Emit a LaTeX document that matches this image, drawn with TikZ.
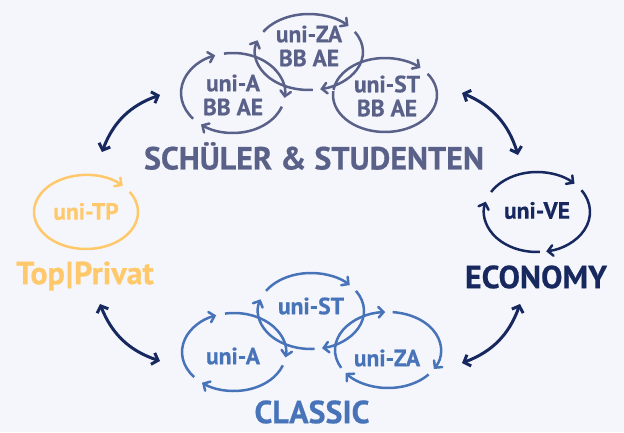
\documentclass[tikz,border=0pt]{standalone}
\usepackage{fontspec}
\setmainfont{PT Sans}[BoldFeatures={FakeBold=0.5}]
\usetikzlibrary{arrows.meta}
\definecolor{bgc}{HTML}{F5F6FC}
\definecolor{slate}{HTML}{5A6188}
\definecolor{blu}{HTML}{4773B8}
\definecolor{yel}{HTML}{FFC96B}
\definecolor{navy}{HTML}{17285E}
\newcommand\ecarc[6]{\draw[#1] (#2) ++(#5:#3 and #4) arc[start angle=#5, end angle=#6, x radius=#3, y radius=#4];}
\tikzset{
  cyc/.style={line width=2.5pt, -{Straight Barb[length=5pt,width=10.5pt,line cap=round]}},
  cycn/.style={line width=2.5pt},
  small/.style={font=\bfseries\fontsize{23.5}{24}\selectfont, align=center, inner sep=0pt},
  big/.style={font=\bfseries\fontsize{32}{33}\selectfont, inner sep=0pt},
  link/.style={line width=3pt, color=navy, {Straight Barb[length=5.5pt,width=12pt]}-{Straight Barb[length=5.5pt,width=12pt]}},
}
\begin{document}
\begin{tikzpicture}[x=1pt,y=1pt]
\fill[bgc] (0,0) rectangle (624,432);
\useasboundingbox (0,0) rectangle (624,432);
% ellipse centres
\coordinate (tAc) at (233,339);
\coordinate (tZc) at (309,380);
\coordinate (tSc) at (385,337);
\coordinate (bAc) at (234,80);
\coordinate (bSc) at (311,121);
\coordinate (bZc) at (388,82);
\coordinate (TPc) at (86,220);
\coordinate (VEc) at (537,220);
% top group (slate)
\begin{scope}[color=slate]
\ecarc{cyc}{tAc}{52pt}{40pt}{220}{110}
\ecarc{cyc}{tAc}{52pt}{40pt}{100}{-7}
\ecarc{cyc}{tAc}{52pt}{40pt}{-20}{-128}
\ecarc{cyc}{tZc}{54pt}{38pt}{148}{43}
\ecarc{cyc}{tZc}{54pt}{38pt}{32}{-78}
\ecarc{cyc}{tZc}{54pt}{38pt}{-86}{-198}
\ecarc{cyc}{tSc}{52pt}{37pt}{172}{47}
\ecarc{cycn}{tSc}{52pt}{37pt}{35}{-186}
\node[small, text=slate] (tA) at (233,337) {uni-A\\BB AE};
\node[small, text=slate] (tZ) at (309,386) {uni-ZA\\BB AE};
\node[small, text=slate] (tS) at (387,336) {uni-ST\\BB AE};
\node[big, text=slate] (SCH) at (314,276) {SCHÜLER \& STUDENTEN};
\end{scope}
% bottom group (blue)
\begin{scope}[color=blu]
\ecarc{cyc}{bAc}{52pt}{39pt}{220}{110}
\ecarc{cyc}{bAc}{52pt}{39pt}{100}{-8}
\ecarc{cyc}{bAc}{52pt}{39pt}{-20}{-128}
\ecarc{cyc}{bSc}{53pt}{38pt}{148}{43}
\ecarc{cyc}{bSc}{53pt}{38pt}{32}{-78}
\ecarc{cyc}{bSc}{53pt}{38pt}{-86}{-198}
\ecarc{cyc}{bZc}{53pt}{38pt}{208}{93}
\ecarc{cyc}{bZc}{53pt}{38pt}{85}{-30}
\ecarc{cyc}{bZc}{53pt}{38pt}{-40}{-143}
\node[small, text=blu] (bA) at (233,76) {uni-A};
\node[small, text=blu] (bS) at (311,126) {uni-ST};
\node[small, text=blu] (bZ) at (387,74) {uni-ZA};
\node[big, text=blu] (CL) at (312,20) {CLASSIC};
\end{scope}
% left (yellow)
\begin{scope}[color=yel]
\ecarc{cyc}{TPc}{52pt}{37pt}{33}{-315}
\node[small, text=yel] (TP) at (86,220.5) {uni-TP};
\node[big, text=yel] (TOP) at (85,156) {Top\kern1pt|\kern1pt Privat};
\end{scope}
% right (navy)
\begin{scope}[color=navy]
\ecarc{cyc}{VEc}{53pt}{40pt}{150}{45}
\ecarc{cyc}{VEc}{53pt}{40pt}{33}{-80}
\ecarc{cyc}{VEc}{53pt}{40pt}{-87}{-195}
\node[small, text=navy] (VE) at (537,221.5) {uni-VE};
\node[big, text=navy] (ECO) at (536,155) {ECONOMY};
\end{scope}
% links
\coordinate (a1) at (102,280); \coordinate (a2) at (160,337);
\coordinate (b1) at (160,71);  \coordinate (b2) at (100,128);
\coordinate (c1) at (518,277); \coordinate (c2) at (462,339);
\coordinate (d1) at (520,128); \coordinate (d2) at (462,69);
\draw[link] (a1) to[bend left=25] (a2);
\draw[link] (b1) to[bend left=25] (b2);
\draw[link] (c2) to[bend left=25] (c1);
\draw[link] (d1) to[bend left=25] (d2);
\end{tikzpicture}
\end{document}
